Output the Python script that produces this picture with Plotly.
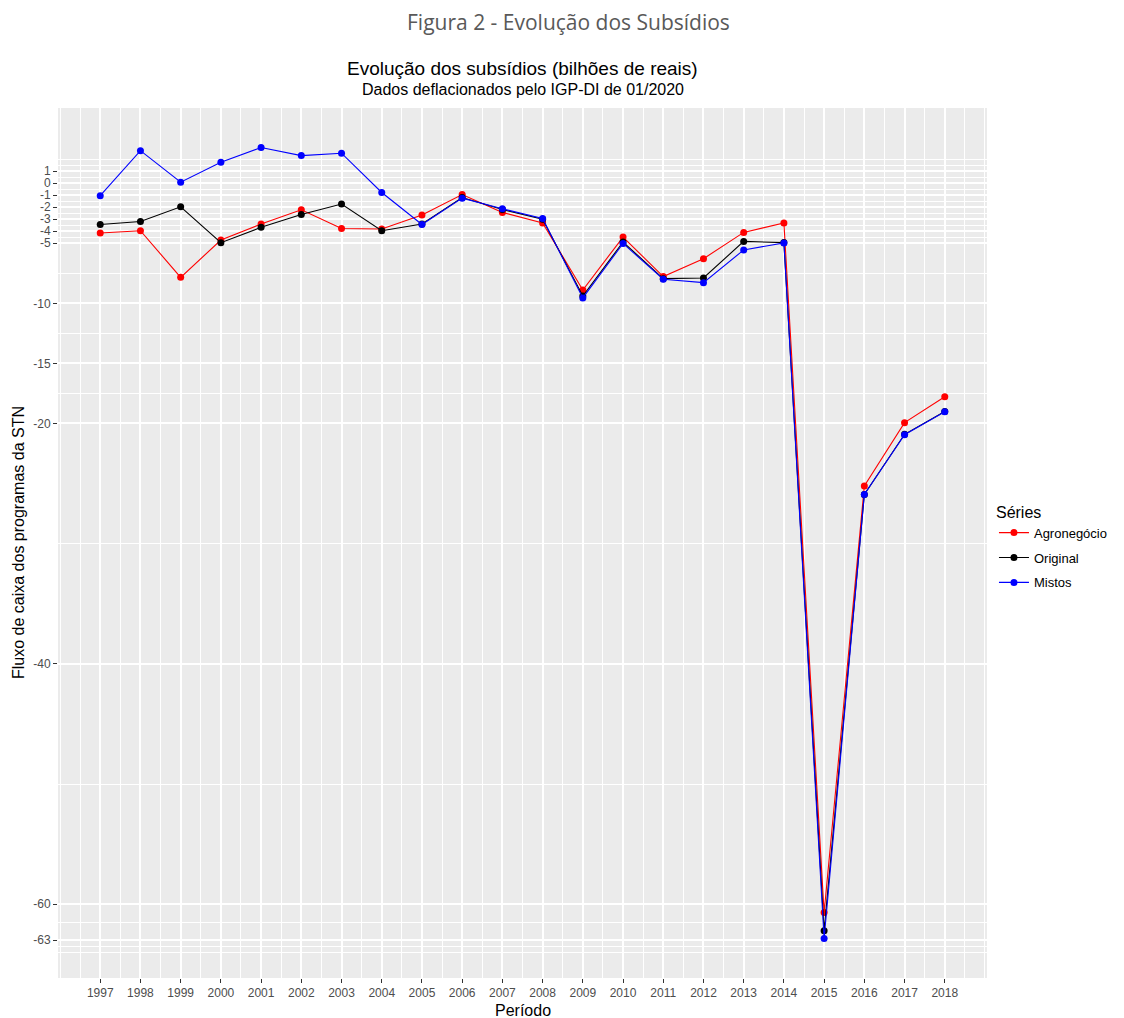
import plotly.graph_objects as go

# ---- data ----
years = list(range(1997, 2019))
year_labels = [str(y) for y in years]

agronegocio = [-4.15, -3.96, -7.84, -4.74, -3.41, -2.22, -3.77, -3.82, -2.66, -0.95,
               -2.44, -3.32, -8.89, -4.49, -7.78, -6.29, -4.10, -3.32, -60.7, -25.2,
               -19.93, -17.77]
original = [-3.44, -3.20, -1.97, -4.96, -3.68, -2.61, -1.74, -3.96, -3.40, -1.20,
            -2.20, -3.00, -9.40, -4.90, -7.95, -7.89, -4.85, -4.95, -62.2, -25.9,
            -20.9, -19.00]
mistos = [-1.05, 2.70, 0.08, 1.74, 2.96, 2.29, 2.49, -0.78, -3.44, -1.25,
          -2.13, -2.94, -9.55, -5.02, -8.00, -8.28, -5.56, -4.98, -62.85, -25.9,
          -20.93, -19.02]

series_names = ["Agronegócio", "Original", "Mistos"]
series_values = [agronegocio, original, mistos]
series_colors = ["#FF0000", "#000000", "#0000FF"]

y_ticks = [1, 0, -1, -2, -3, -4, -5, -10, -15, -20, -40, -60, -63]
y_minor = [2, 1.5, 0.5, -0.5, -1.5, -2.5, -3.5, -4.5, -7.5, -12.5, -17.5,
           -30, -50, -61.5, -63.5, -64]
x_minor = [1996 + 0.5 * i for i in range(47)]

# ---- ranges (ggplot-style 5% expansion) ----
all_vals = agronegocio + original + mistos
ylo, yhi = min(all_vals), max(all_vals)
ypad = 0.05 * (yhi - ylo)
xlo, xhi = min(years), max(years)
xpad = 0.05 * (xhi - xlo)

FONT = "Liberation Sans, Arial, sans-serif"

fig = go.Figure()
for name, vals, col in zip(series_names, series_values, series_colors):
    fig.add_trace(go.Scatter(
        x=years, y=vals, mode="lines+markers", name=name, legendgroup=name,
        line=dict(color=col, width=1.1),
        marker=dict(color=col, size=7),
    ))

axis_common = dict(
    showgrid=True, gridcolor="white", gridwidth=2,
    zeroline=False, showline=False, automargin=False,
    ticks="outside", ticklen=4, tickwidth=1, tickcolor="#333333",
    tickfont=dict(family=FONT, size=12, color="#4D4D4D"),
)

fig.update_layout(
    width=1124, height=1018, autosize=False,
    paper_bgcolor="white", plot_bgcolor="#EBEBEB",
    margin=dict(l=58, r=137, t=108, b=40, autoexpand=False),
    font=dict(family=FONT, color="#000000"),
    xaxis=dict(range=[xlo - xpad, xhi + xpad], tickmode="array",
               tickvals=years, ticktext=year_labels,
               minor=dict(tickmode="array", tickvals=x_minor, showgrid=True,
                          gridcolor="white", gridwidth=1, ticks=""),
               **axis_common),
    yaxis=dict(range=[ylo - ypad, yhi + ypad], tickmode="array",
               tickvals=y_ticks, ticktext=[str(v) for v in y_ticks],
               minor=dict(tickmode="array", tickvals=y_minor, showgrid=True,
                          gridcolor="white", gridwidth=1, ticks=""),
               **axis_common),
    legend=dict(title=dict(text="Séries", font=dict(family=FONT, size=16, color="#000000")),
                font=dict(family=FONT, size=13, color="#000000"),
                x=1.0075, xanchor="left", y=0.495, yanchor="middle",
                bgcolor="rgba(0,0,0,0)", traceorder="grouped", tracegroupgap=5,
                itemwidth=30),
    annotations=[
        dict(text="Figura 2 - Evolução dos Subsídios", xref="paper", yref="paper",
             x=(568 - 58) / 929, y=(978 - 22) / 870, xanchor="center", yanchor="middle",
             showarrow=False,
             font=dict(family="Open Sans, Noto Sans, sans-serif", size=21, color="#595959")),
        dict(text="Evolução dos subsídios (bilhões de reais)", xref="paper", yref="paper",
             x=0.5, y=(978 - 68) / 870, xanchor="center", yanchor="middle", showarrow=False,
             font=dict(family=FONT, size=19, color="#000000")),
        dict(text="Dados deflacionados pelo IGP-DI de 01/2020", xref="paper", yref="paper",
             x=0.5, y=(978 - 90) / 870, xanchor="center", yanchor="middle", showarrow=False,
             font=dict(family=FONT, size=16, color="#000000")),
        dict(text="Período", xref="paper", yref="paper",
             x=0.5, y=(978 - 1010) / 870, xanchor="center", yanchor="middle", showarrow=False,
             font=dict(family=FONT, size=16, color="#000000")),
        dict(text="Fluxo de caixa dos programas da STN", xref="paper", yref="paper",
             x=(18 - 58) / 929, y=0.5, xanchor="center", yanchor="middle", showarrow=False,
             textangle=-90, font=dict(family=FONT, size=16, color="#000000")),
    ],
)

fig.write_html("out.html", config={"displayModeBar": False},
               post_script="document.body.style.margin='0';document.body.style.overflow='hidden';")
